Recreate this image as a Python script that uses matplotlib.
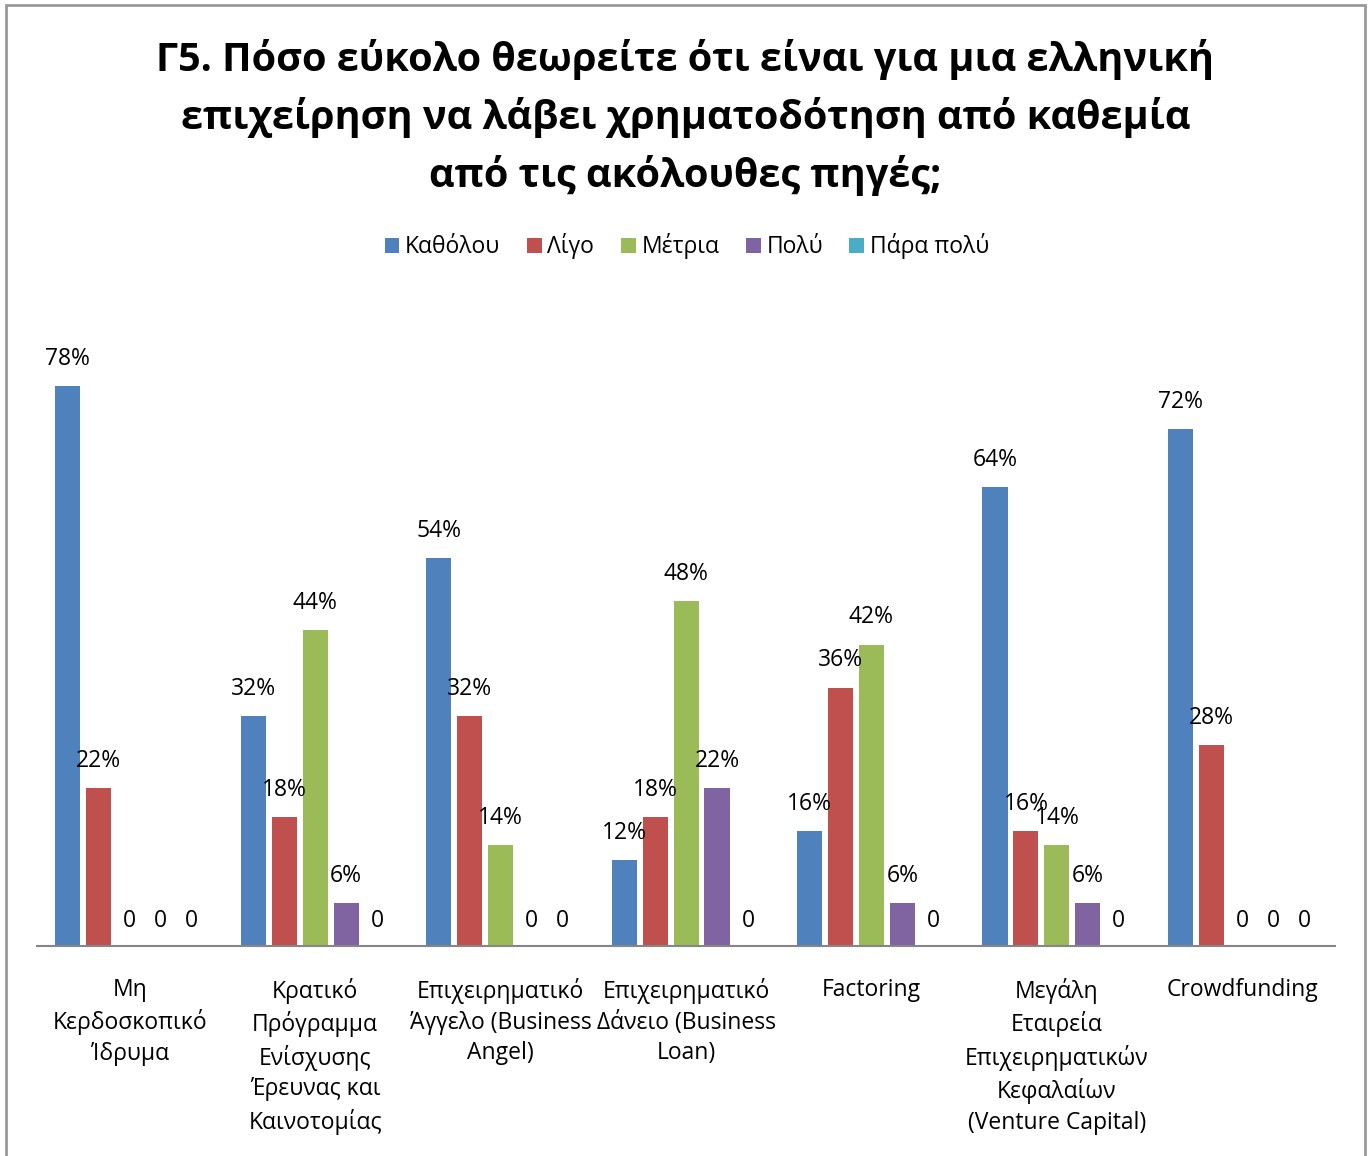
import numpy as np
import matplotlib.pyplot as plt
from matplotlib.patches import Rectangle

plt.rcParams['font.family'] = ['Open Sans', 'DejaVu Sans']

categories = ['Μη\nΚερδοσκοπικό\nΊδρυμα',
              'Κρατικό\nΠρόγραμμα\nΕνίσχυσης\nΈρευνας και\nΚαινοτομίας',
              'Επιχειρηματικό\nΆγγελο (Business\nAngel)',
              'Επιχειρηματικό\nΔάνειο (Business\nLoan)',
              'Factoring',
              'Μεγάλη\nΕταιρεία\nΕπιχειρηματικών\nΚεφαλαίων\n(Venture Capital)',
              'Crowdfunding']
series_names = ['Καθόλου', 'Λίγο', 'Μέτρια', 'Πολύ', 'Πάρα πολύ']
katholou = [0.78, 0.32, 0.54, 0.12, 0.16, 0.64, 0.72]
ligo = [0.22, 0.18, 0.32, 0.18, 0.36, 0.16, 0.28]
metria = [0, 0.44, 0.14, 0.48, 0.42, 0.14, 0]
poly = [0, 0.06, 0, 0.22, 0.06, 0.06, 0]
para_poly = [0, 0, 0, 0, 0, 0, 0]
colors = ['#4F81BD', '#C0504D', '#9BBB59', '#8064A2', '#4BACC6']

title = ('Γ5. Πόσο εύκολο θεωρείτε ότι είναι για μια ελληνική\n'
         'επιχείρηση να λάβει χρηματοδότηση από καθεμία\n'
         'από τις ακόλουθες πηγές;')

fig = plt.figure(figsize=(13.71, 11.56), dpi=100)
ax = fig.add_axes([0.027, 0.1817, 0.9468, 0.5588])

x = np.arange(len(categories))
step = 0.167
width = 0.135
data = [katholou, ligo, metria, poly, para_poly]
handles = []
for k, vals in enumerate(data):
    pos = x + (k - 2) * step
    bars = ax.bar(pos, vals, width=width, color=colors[k], label=series_names[k])
    handles.append(bars)
    for p, v in zip(pos, vals):
        txt = '0' if v == 0 else '%d%%' % round(v * 100)
        off = 18 if v == 0 else 19.5
        ax.annotate(txt, (p, v), xytext=(0, off), textcoords='offset points',
                    ha='center', va='center', fontsize=16.5)

ax.set_xlim(-0.5, len(categories) - 0.5)
ax.set_ylim(0, 0.9)
ax.set_yticks([])
ax.set_xticks(x)
ax.set_xticklabels(categories, fontsize=16.5, linespacing=1.37)
ax.tick_params(axis='x', length=0, pad=23)
for s in ['top', 'right', 'left']:
    ax.spines[s].set_visible(False)
ax.spines['bottom'].set_color('#868686')
ax.spines['bottom'].set_linewidth(1.5)

fig.text(0.5, 0.966, title, ha='center', va='top', fontsize=28.5,
         fontweight='bold', linespacing=1.52)

fig.legend(handles=handles, loc='center', bbox_to_anchor=(0.501, 0.787), ncol=5,
           frameon=False, fontsize=16.5, handlelength=0.65, handleheight=0.65,
           handletextpad=0.25, columnspacing=1.15)

fig.patches.append(Rectangle((6 / 1371, -0.05), 1359 / 1371, 1.05 - 5 / 1156,
                             transform=fig.transFigure, fill=False,
                             edgecolor='#9a9a9a', linewidth=2))

fig.savefig('out.png', dpi=100)
